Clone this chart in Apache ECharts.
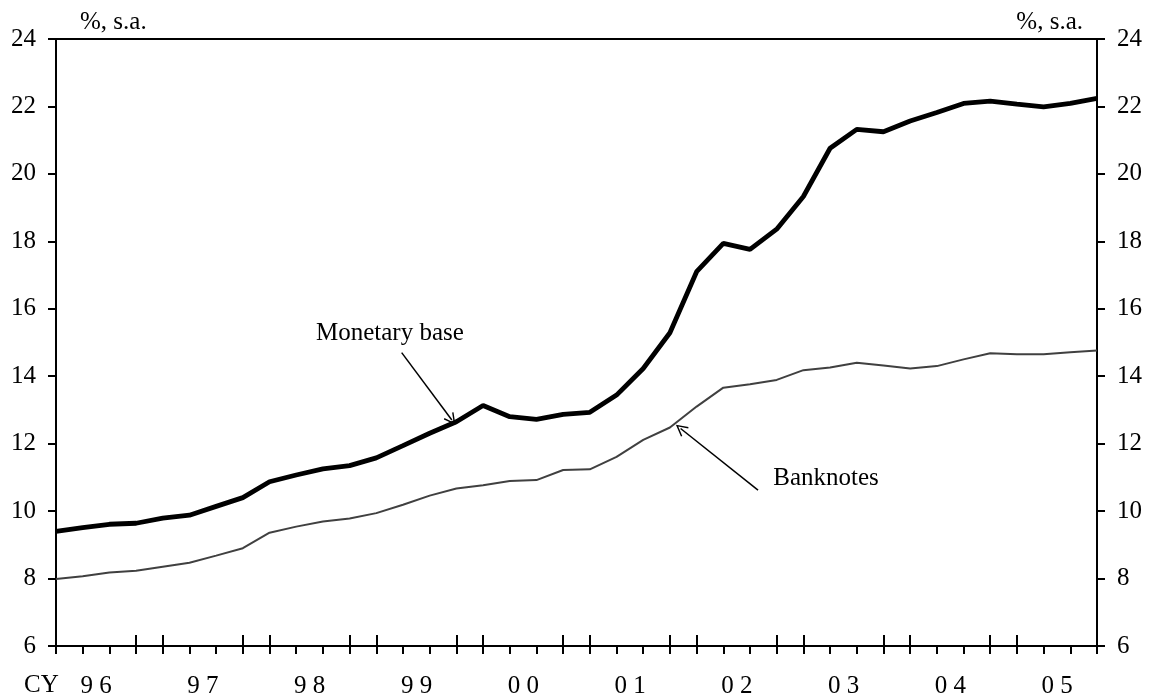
<!DOCTYPE html>
<html>
<head>
<meta charset="utf-8">
<script src="https://cdn.jsdelivr.net/npm/echarts@6/dist/echarts.min.js"></script>
<style>
  html, body { margin: 0; padding: 0; background: #fff; }
  #main { width: 1149px; height: 696px; }
</style>
</head>
<body>
<div id="main"></div>
<script>
var quarters = [
  '96Q1', '96Q2', '96Q3', '96Q4', '97Q1', '97Q2', '97Q3', '97Q4',
  '98Q1', '98Q2', '98Q3', '98Q4', '99Q1', '99Q2', '99Q3', '99Q4',
  '00Q1', '00Q2', '00Q3', '00Q4', '01Q1', '01Q2', '01Q3', '01Q4',
  '02Q1', '02Q2', '02Q3', '02Q4', '03Q1', '03Q2', '03Q3', '03Q4',
  '04Q1', '04Q2', '04Q3', '04Q4', '05Q1', '05Q2', '05Q3', '05Q4'
];
var yearLabels = ['9 6', '9 7', '9 8', '9 9', '0 0', '0 1', '0 2', '0 3', '0 4', '0 5'];

// % , s.a.
var monetaryBase = [
  9.40, 9.51, 9.61, 9.64, 9.79, 9.88, 10.14, 10.40,
  10.87, 11.07, 11.25, 11.35, 11.58, 11.94, 12.31, 12.65,
  13.13, 12.80, 12.72, 12.87, 12.93, 13.44, 14.23, 15.29,
  17.10, 17.94, 17.76, 18.36, 19.33, 20.76, 21.32, 21.25,
  21.57, 21.82, 22.09, 22.16, 22.07, 21.99, 22.09, 22.24
];
var banknotes = [
  7.99, 8.07, 8.18, 8.23, 8.35, 8.47, 8.68, 8.90,
  9.36, 9.54, 9.69, 9.78, 9.94, 10.19, 10.46, 10.67,
  10.77, 10.89, 10.92, 11.22, 11.24, 11.61, 12.11, 12.48,
  13.10, 13.66, 13.76, 13.89, 14.18, 14.26, 14.40, 14.32,
  14.23, 14.30, 14.50, 14.68, 14.65, 14.65, 14.71, 14.76
];

// annotations in data units: [quarter index, value]
var mbLabel = { text: 'Monetary base', at: [12.51, 15.28] };
var mbArrow = { from: [12.95, 14.70], to: [14.83, 12.70] };
var bnLabel = { text: 'Banknotes', at: [28.85, 10.98] };
var bnArrow = { from: [26.3, 10.62], to: [23.40, 12.45] };

var font = "'Liberation Serif', 'Times New Roman', serif";
var openArrow = 'path://M5,0 L10,9 L9,9.6 L5,2.4 L1,9.6 L0,9 Z';

var chart = echarts.init(document.getElementById('main'), null, { renderer: 'canvas' });

function yAxisCfg(pos) {
  return {
    type: 'value',
    position: pos,
    min: 6,
    max: 24,
    interval: 2,
    name: '%, s.a.',
    nameLocation: 'end',
    nameGap: 4,
    nameTextStyle: {
      color: '#000',
      fontFamily: font,
      fontSize: 25,
      align: pos === 'left' ? 'left' : 'right',
      padding: pos === 'left' ? [0, 0, 0, 24] : [0, 14, 0, 0]
    },
    axisLine: { show: true, lineStyle: { color: '#000', width: 2 } },
    axisTick: { show: true, length: 8, lineStyle: { color: '#000', width: 2 } },
    axisLabel: { color: '#000', fontFamily: font, fontSize: 25, margin: 20 },
    splitLine: { show: false }
  };
}

var option = {
  animation: false,
  backgroundColor: '#fff',
  textStyle: { fontFamily: font, color: '#000' },
  tooltip: { show: false },
  grid: {
    left: 56,
    right: 52,
    top: 39,
    bottom: 50,
    show: true,
    borderColor: '#000',
    borderWidth: 2,
    containLabel: false,
    outerBoundsMode: 'none'
  },
  xAxis: [
    {
      type: 'category',
      data: quarters,
      boundaryGap: false,
      axisLine: { show: true, onZero: false, lineStyle: { color: '#000', width: 2 } },
      axisTick: { show: true, interval: 0, length: 8, lineStyle: { color: '#000', width: 2 } },
      axisLabel: {
        show: true,
        interval: function (i) { return i % 4 === 1; },
        formatter: function (v, i) { return yearLabels[(i - 1) / 4]; },
        color: '#000',
        fontFamily: font,
        fontSize: 25,
        margin: 28,
        padding: [0, 0, 0, 27]
      },
      splitLine: { show: false }
    },
    {
      // long year-boundary ticks
      type: 'category',
      data: quarters,
      boundaryGap: false,
      position: 'bottom',
      axisLine: { show: false },
      axisLabel: { show: false },
      splitLine: { show: false },
      axisTick: {
        show: true,
        inside: true,
        length: 11,
        interval: function (i) { return i > 0 && (i % 4 === 3 || i % 4 === 0); },
        lineStyle: { color: '#000', width: 2 }
      }
    },
    { type: 'value', min: 0, max: 39, show: false }
  ],
  yAxis: [yAxisCfg('left'), yAxisCfg('right')],
  graphic: [
    {
      type: 'text',
      left: 24,
      top: 673,
      style: { text: 'CY', font: '25px ' + font, fill: '#000' }
    }
  ],
  series: [
    {
      name: 'Banknotes',
      type: 'line',
      xAxisIndex: 0,
      yAxisIndex: 0,
      data: banknotes,
      showSymbol: false,
      lineStyle: { color: '#404040', width: 2 },
      z: 2
    },
    {
      name: 'Monetary base',
      type: 'line',
      xAxisIndex: 0,
      yAxisIndex: 0,
      data: monetaryBase,
      showSymbol: false,
      lineStyle: { color: '#000', width: 4.8 },
      z: 3
    },
    {
      name: 'notes',
      type: 'line',
      xAxisIndex: 2,
      yAxisIndex: 0,
      data: [],
      silent: true,
      markLine: {
        silent: true,
        symbol: ['none', openArrow],
        symbolSize: [12, 12],
        label: { show: false },
        lineStyle: { color: '#000', width: 1.5, type: 'solid' },
        emphasis: { disabled: true },
        data: [
          [{ coord: mbArrow.from }, { coord: mbArrow.to }],
          [{ coord: bnArrow.from }, { coord: bnArrow.to }]
        ]
      },
      markPoint: {
        silent: true,
        symbol: 'circle',
        symbolSize: 0,
        label: {
          show: true,
          position: 'inside',
          color: '#000',
          fontFamily: font,
          fontSize: 25,
          formatter: function (p) { return p.name; }
        },
        data: [
          { name: mbLabel.text, coord: mbLabel.at },
          { name: bnLabel.text, coord: bnLabel.at }
        ]
      }
    }
  ]
};

chart.setOption(option);
</script>
</body>
</html>
